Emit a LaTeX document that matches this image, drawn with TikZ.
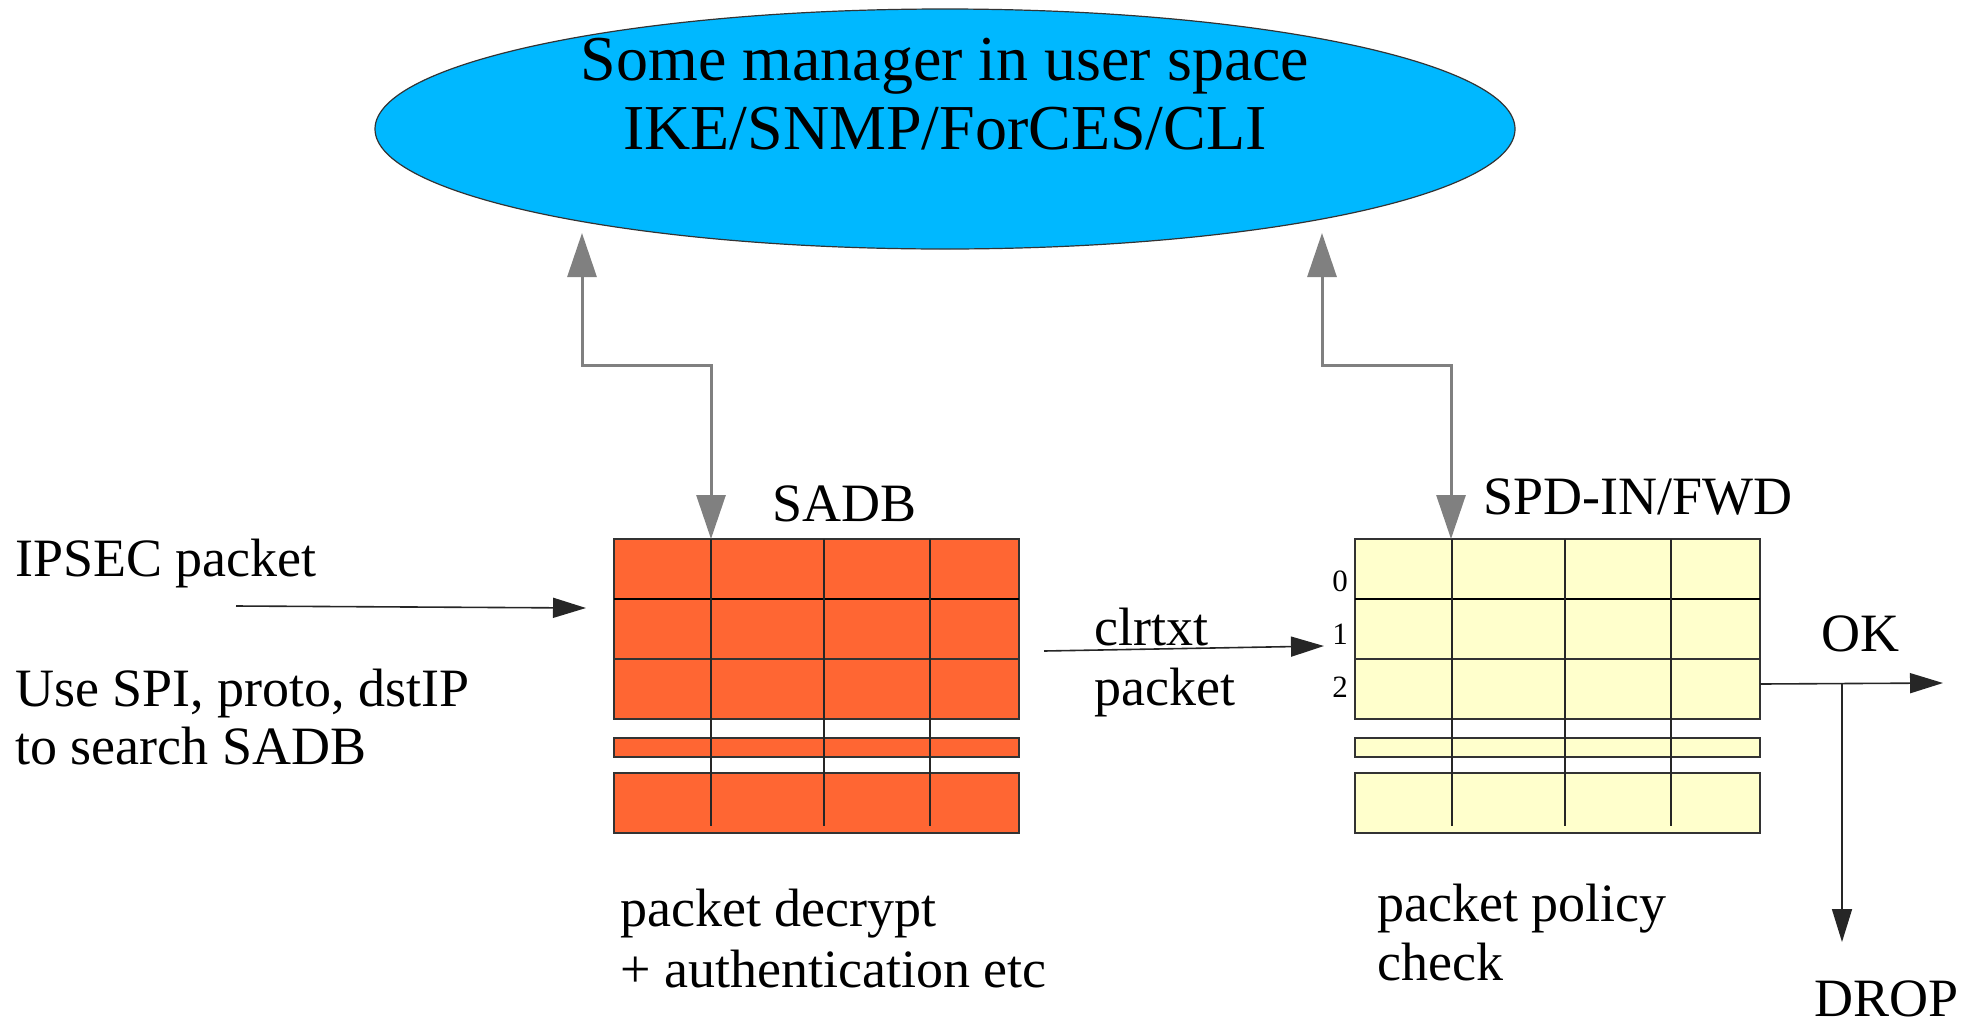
\documentclass[tikz,border=0pt]{standalone}
\usepackage{fontspec}
\setmainfont{Liberation Serif}
\usetikzlibrary{arrows.meta,shapes.geometric}
\definecolor{mgrblue}{RGB}{0,184,255}
\definecolor{saorange}{RGB}{255,102,51}
\definecolor{spdyellow}{RGB}{255,255,204}
\definecolor{gline}{RGB}{128,128,128}
\tikzset{
  txt/.style={anchor=base west, inner sep=0pt, font=\fontsize{54}{60}\selectfont},
  bigtxt/.style={anchor=base, inner sep=0pt, font=\fontsize{64}{70}\selectfont},
  num/.style={anchor=base east, inner sep=0pt, font=\fontsize{31}{34}\selectfont},
  mgrlink/.style={line width=3pt, draw=gline,
    {Triangle[length=44pt,width=29pt]}-{Triangle[length=44pt,width=29pt]}},
  flow/.style={line width=1.6pt, draw=black!85, -{Triangle[length=33pt,width=20pt]}},
  cell/.style={draw=black!80, line width=1.5pt},
  vline/.style={draw=black!85, line width=1.5pt},
}
\begin{document}
\begin{tikzpicture}[x=1pt,y=-1pt]
\useasboundingbox (0,0) rectangle (1975,1026);

% manager ellipse
\node[ellipse, draw=black!80, line width=1.2pt, fill=mgrblue, minimum width=1140pt,
      minimum height=240pt, inner sep=0pt] (mgr) at (945,129) {};
\node[bigtxt] (mgrl1) at (945,80) {Some manager in user space};
\node[bigtxt] (mgrl2) at (945,149) {IKE/SNMP/ForCES/CLI};

% tables
\foreach \x/\c in {614/saorange, 1355/spdyellow} {
  \draw[cell, fill=\c] (\x,539) rectangle ++(405,180);
  \draw[cell, fill=\c] (\x,738) rectangle ++(405,19);
  \draw[cell, fill=\c] (\x,773) rectangle ++(405,60);
  \draw[cell, line width=2pt, draw=black] (\x,599) -- ++(405,0);
  \draw[cell] (\x,659) -- ++(405,0);
  \foreach \dx in {97,210,316} {
    \draw[vline] (\x+\dx,539) -- (\x+\dx,826);
  }
}
\node[inner sep=0pt, minimum width=405pt, minimum height=294pt, anchor=north west] (sadb) at (614,539) {};
\node[inner sep=0pt, minimum width=405pt, minimum height=294pt, anchor=north west] (spd) at (1355,539) {};

% row numbers
\node[num] (n0) at (1348,591) {0};
\node[num] (n1) at (1348,644) {1};
\node[num] (n2) at (1348,697) {2};

% labels
\node[txt] (sadblbl) at (772,521) {SADB};
\node[txt] (spdlbl) at (1483,514) {SPD-IN/FWD};
\node[txt] (ipsec) at (15,576) {IPSEC packet};
\node[txt] (use1) at (15,706) {Use SPI, proto, dstIP};
\node[txt] (use2) at (15,764) {to search SADB};
\node[txt] (clr1) at (1094,645) {clrtxt};
\node[txt] (clr2) at (1094,705) {packet};
\node[txt] (ok) at (1821,651) {OK};
\node[txt] (drop) at (1814,1016) {DROP};
\node[txt] (dec1) at (620,926) {packet decrypt};
\node[txt] (dec2) at (620,987) {+ authentication etc};
\node[txt] (pol1) at (1377,921) {packet policy};
\node[txt] (pol2) at (1377,980) {check};

% connector end points
\coordinate (mgrL) at (582,233);
\coordinate (mgrR) at (1322,233);
\coordinate (sadbin) at (711,539);
\coordinate (spdin) at (1451,539);
\coordinate (ipsecA) at (236,606);
\coordinate (ipsecB) at (586,608);
\coordinate (clrA) at (1044,651);
\coordinate (clrB) at (1324,646);
\coordinate (okA) at (1760,684);
\coordinate (okB) at (1943,683);
\coordinate (dropA) at (1842,684);
\coordinate (dropB) at (1842,942);

% manager links
\draw[mgrlink] (mgrL) -- (mgrL |- 0,365) -- (sadbin |- 0,365) -- (sadbin);
\draw[mgrlink] (mgrR) -- (mgrR |- 0,365) -- (spdin |- 0,365) -- (spdin);

% packet flow
\draw[flow] (ipsecA) -- (ipsecB);
\draw[flow] (clrA) -- (clrB);
\draw[flow] (okA) -- (okB);
\draw[flow] (dropA) -- (dropB);
\end{tikzpicture}
\end{document}
